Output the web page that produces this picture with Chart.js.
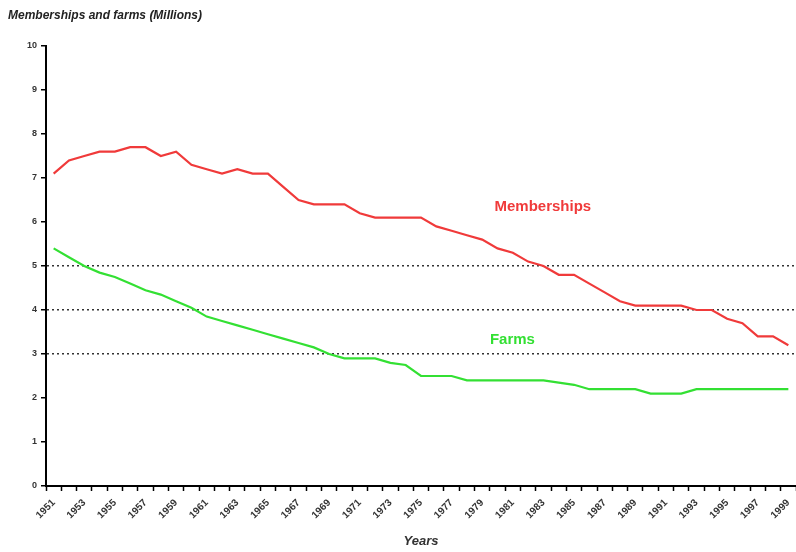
<!DOCTYPE html>
<html>
<head>
<meta charset="utf-8">
<script src="https://cdn.jsdelivr.net/npm/chart.js@4.4.0/dist/chart.umd.min.js"></script>
<style>
  html, body { margin: 0; padding: 0; background: #fff; }
  #wrap { width: 796px; height: 552px; }
</style>
</head>
<body>
<div id="wrap"><canvas id="farmChart" width="796" height="552"></canvas></div>
<script>
// Years 1951 - 1999
const years = [];
for (let y = 1951; y <= 1999; y++) years.push(String(y));

// Memberships (millions)
const memberships = [
  7.1, 7.4, 7.5, 7.6, 7.6, 7.7, 7.7, 7.5, 7.6, 7.3,
  7.2, 7.1, 7.2, 7.1, 7.1, 6.8, 6.5, 6.4, 6.4, 6.4,
  6.2, 6.1, 6.1, 6.1, 6.1, 5.9, 5.8, 5.7, 5.6, 5.4,
  5.3, 5.1, 5.0, 4.8, 4.8, 4.6, 4.4, 4.2, 4.1, 4.1,
  4.1, 4.1, 4.0, 4.0, 3.8, 3.7, 3.4, 3.4, 3.2
];

// Farms (millions)
const farms = [
  5.4, 5.2, 5.0, 4.85, 4.75, 4.6, 4.45, 4.35, 4.2, 4.05,
  3.85, 3.75, 3.65, 3.55, 3.45, 3.35, 3.25, 3.15, 3.0, 2.9,
  2.9, 2.9, 2.8, 2.75, 2.5, 2.5, 2.5, 2.4, 2.4, 2.4,
  2.4, 2.4, 2.4, 2.35, 2.3, 2.2, 2.2, 2.2, 2.2, 2.1,
  2.1, 2.1, 2.2, 2.2, 2.2, 2.2, 2.2, 2.2, 2.2
];

const yTicks = [0, 1, 2, 3, 4, 5, 6, 7, 8, 9, 10];
const dottedAt = [3, 4, 5];

const redColor = '#f03a3a';
const greenColor = '#33e033';
const fontFam = '"Liberation Sans", Arial, sans-serif';

// titre et étiquettes des séries
const textPlugin = {
  id: 'textPlugin',
  afterDraw(chart) {
    const ctx = chart.ctx;
    const x = chart.scales.x, y = chart.scales.y;
    ctx.save();
    ctx.textBaseline = 'middle';
    ctx.textAlign = 'left';
    ctx.font = 'italic bold 12px ' + fontFam;
    ctx.fillStyle = '#222';
    ctx.fillText('Memberships and farms (Millions)', 8, 16);

    ctx.font = 'bold 15px ' + fontFam;
    ctx.fillStyle = redColor;
    ctx.fillText('Memberships', x.getPixelForValue(28.8), y.getPixelForValue(6.35));
    ctx.fillStyle = greenColor;
    ctx.fillText('Farms', x.getPixelForValue(28.5), y.getPixelForValue(3.33));
    ctx.restore();
  }
};

new Chart(document.getElementById('farmChart'), {
  type: 'line',
  data: {
    labels: years,
    datasets: [{
      label: 'Memberships',
      data: memberships,
      borderColor: redColor,
      borderWidth: 2.2,
      pointRadius: 0,
      tension: 0
    }, {
      label: 'Farms',
      data: farms,
      borderColor: greenColor,
      borderWidth: 2.2,
      pointRadius: 0,
      tension: 0
    }]
  },
  options: {
    responsive: false,
    animation: false,
    layout: { padding: { top: 46, right: 0, left: 0, bottom: 0 } },
    plugins: {
      legend: { display: false },
      tooltip: { enabled: false }
    },
    scales: {
      x: {
        offset: true,
        afterFit(scale) {
          scale.height = 66;
          scale.paddingLeft = 0;
          scale.paddingRight = 0;
        },
        grid: {
          drawOnChartArea: false,
          offset: true,
          tickLength: 5,
          tickColor: '#000',
          tickWidth: 1.5
        },
        border: { display: true, color: '#000', width: 2 },
        ticks: {
          autoSkip: false,
          minRotation: 45,
          maxRotation: 45,
          padding: 6,
          color: '#333',
          font: { family: fontFam, size: 10, weight: 'bold' },
          callback(val, i) { return i % 2 === 0 ? years[i] : ''; }
        },
        title: {
          display: true,
          text: 'Years',
          color: '#333',
          padding: { top: 0, bottom: 3 },
          font: { family: fontFam, size: 13, weight: 'bold', style: 'italic' }
        }
      },
      y: {
        min: 0,
        max: 10,
        afterFit(scale) { scale.width = 46; },
        afterBuildTicks(scale) { scale.ticks = yTicks.map(v => ({ value: v })); },
        grid: {
          color(ctx) { return dottedAt.includes(ctx.tick && ctx.tick.value) ? '#333' : 'rgba(0,0,0,0)'; },
          lineWidth: 1.5,
          tickLength: 5,
          tickColor: '#000',
          tickWidth: 1.5,
          tickBorderDash: []
        },
        border: { display: true, color: '#000', width: 2, dash: [2, 3] },
        ticks: {
          padding: 4,
          color: '#333',
          font: { family: fontFam, size: 9, weight: 'bold' }
        }
      }
    }
  },
  plugins: [textPlugin]
});
</script>
</body>
</html>
